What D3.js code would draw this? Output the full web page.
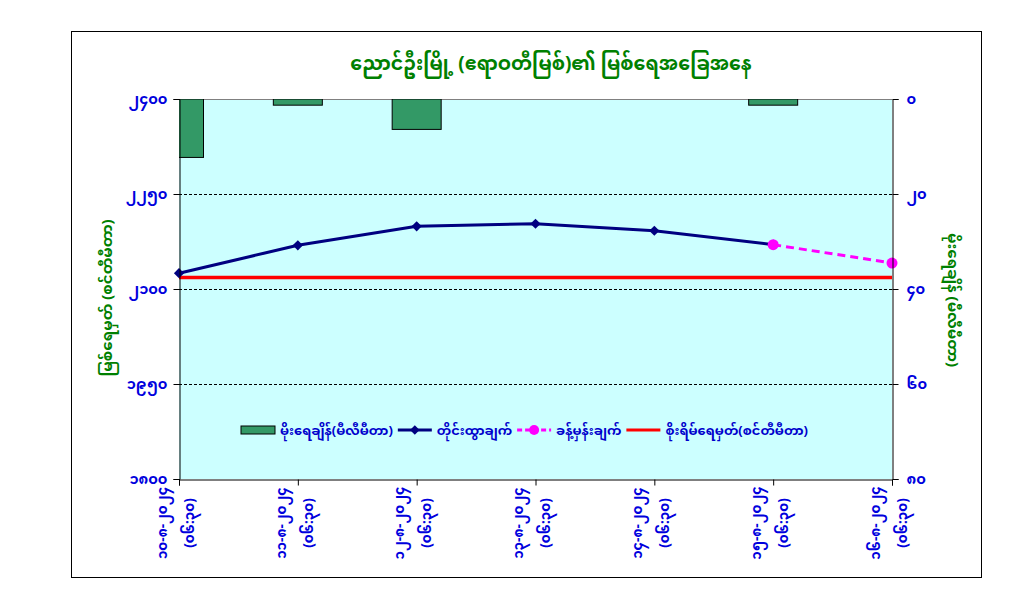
<!DOCTYPE html>
<html>
<head>
<meta charset="utf-8">
<script src="https://cdn.jsdelivr.net/npm/d3@7"></script>
<style>
  body { margin: 0; background: #fff; }
  text { font-family: "Noto Sans Myanmar", "Padauk", "Myanmar Text", "Noto Sans", sans-serif; }
</style>
</head>
<body>
<div id="chart"></div>
<script>
// chart values
const dates = ["၁၀-၈-၂၀၂၄", "၁၁-၈-၂၀၂၄", "၁၂-၈-၂၀၂၄", "၁၃-၈-၂၀၂၄", "၁၄-၈-၂၀၂၄", "၁၅-၈-၂၀၂၄", "၁၆-၈-၂၀၂၄"];
const timeLabel = "(၀၆:၃၀)";
const waterLevel = [2125, 2169, 2199, 2203, 2192, 2170, null];
const forecast = [null, null, null, null, null, 2170, 2141];
const rainfall = [12.3, 1.3, 6.4, 0, 0, 1.3, null];
const dangerLevel = 2118;
const leftTicks = [1800, 1950, 2100, 2250, 2400];
const rightTicks = [0, 20, 40, 60, 80];
const legendNames = ["မိုးရေချိန်(မီလီမီတာ)", "တိုင်းထွာချက်", "ခန့်မှန်းချက်", "စိုးရိမ်ရေမှတ်(စင်တီမီတာ)"];

const toMm = (n) => String(n).replace(/[0-9]/g, (c) => "၀၁၂၃၄၅၆၇၈၉"[+c]);

function createChart() {
  const width = 1018;
  const height = 612;
  const plot = { left: 179, right: 892, top: 99, bottom: 479 };

  const svg = d3.select("#chart")
    .append("svg")
    .attr("width", width)
    .attr("height", height);

  // outer frame
  svg.append("rect")
    .attr("x", 71.5).attr("y", 31.5)
    .attr("width", 910).attr("height", 546)
    .attr("fill", "#fff")
    .attr("stroke", "#000");

  const xScale = d3.scalePoint()
    .domain(dates)
    .range([plot.left, plot.right]);

  const yLeft = d3.scaleLinear()
    .domain([1800, 2400])
    .range([plot.bottom, plot.top]);

  const yRight = d3.scaleLinear()
    .domain([0, 80])
    .range([plot.top, plot.bottom]);

  // plot background
  svg.append("rect")
    .attr("x", plot.left).attr("y", plot.top)
    .attr("width", plot.right - plot.left)
    .attr("height", plot.bottom - plot.top)
    .attr("fill", "#CCFFFF");

  svg.append("line")
    .attr("x1", plot.left).attr("x2", plot.right)
    .attr("y1", plot.top + 0.5).attr("y2", plot.top + 0.5)
    .attr("stroke", "#808080");

  // gridlines
  svg.append("g")
    .selectAll("line")
    .data(leftTicks.slice(1, -1))
    .join("line")
    .attr("x1", plot.left).attr("x2", plot.right)
    .attr("y1", (d) => Math.round(yLeft(d)) + 0.5)
    .attr("y2", (d) => Math.round(yLeft(d)) + 0.5)
    .attr("stroke", "#000")
    .attr("stroke-dasharray", "3,2");

  svg.append("clipPath").attr("id", "clip")
    .append("rect")
    .attr("x", plot.left).attr("y", plot.top)
    .attr("width", plot.right - plot.left)
    .attr("height", plot.bottom - plot.top);

  // rainfall bars hanging from the top
  const barW = 49;
  svg.append("g")
    .attr("clip-path", "url(#clip)")
    .selectAll("rect")
    .data(dates.map((d, i) => ({ date: d, v: rainfall[i] })).filter((d) => d.v))
    .join("rect")
    .attr("x", (d) => xScale(d.date) - barW / 2)
    .attr("y", yRight(0))
    .attr("width", barW)
    .attr("height", (d) => yRight(d.v) - yRight(0))
    .attr("fill", "#339966")
    .attr("stroke", "#000")
    .attr("stroke-width", 1);

  // danger level
  svg.append("line")
    .attr("x1", plot.left).attr("x2", plot.right)
    .attr("y1", yLeft(dangerLevel)).attr("y2", yLeft(dangerLevel))
    .attr("stroke", "#FF0000")
    .attr("stroke-width", 3.5);

  const line = d3.line()
    .defined((d) => d.v != null)
    .x((d) => xScale(d.date))
    .y((d) => yLeft(d.v));

  const observed = dates.map((d, i) => ({ date: d, v: waterLevel[i] }));
  const predicted = dates.map((d, i) => ({ date: d, v: forecast[i] }));

  svg.append("path")
    .datum(observed)
    .attr("d", line)
    .attr("fill", "none")
    .attr("stroke", "#000080")
    .attr("stroke-width", 3);

  // diamonds = squares turned 45deg
  svg.append("g")
    .selectAll("path")
    .data(observed.filter((d) => d.v != null))
    .join("path")
    .attr("d", d3.symbol(d3.symbolSquare, 52))
    .attr("transform", (d) => `translate(${xScale(d.date)},${yLeft(d.v)}) rotate(45)`)
    .attr("fill", "#000080");

  svg.append("path")
    .datum(predicted)
    .attr("d", line)
    .attr("fill", "none")
    .attr("stroke", "#FF00FF")
    .attr("stroke-width", 3)
    .attr("stroke-dasharray", "8,5");

  svg.append("g")
    .selectAll("circle")
    .data(predicted.filter((d) => d.v != null))
    .join("circle")
    .attr("cx", (d) => xScale(d.date))
    .attr("cy", (d) => yLeft(d.v))
    .attr("r", 5.5)
    .attr("fill", "#FF00FF");

  // axes
  const tickColor = "#0000DD";

  const leftAxis = svg.append("g")
    .attr("transform", `translate(${plot.left + 0.5},0)`)
    .call(d3.axisLeft(yLeft).tickValues(leftTicks).tickSize(6).tickPadding(6).tickFormat(toMm));

  const rightAxis = svg.append("g")
    .attr("transform", `translate(${plot.right + 0.5},0)`)
    .call(d3.axisRight(yRight).tickValues(rightTicks).tickSize(6).tickPadding(8).tickFormat(toMm));

  const xAxis = svg.append("g")
    .attr("transform", `translate(0,${plot.bottom + 0.5})`)
    .call(d3.axisBottom(xScale).tickSize(6).tickFormat(""));

  [leftAxis, rightAxis, xAxis].forEach((a) => {
    a.select(".domain").attr("stroke", "#000");
    a.selectAll(".tick line").attr("stroke", "#000");
    a.selectAll("text")
      .attr("fill", tickColor)
      .attr("font-size", 14.5)
      .attr("font-weight", "bold");
  });

  // rotated date labels
  const xl = svg.append("g")
    .selectAll("g")
    .data(dates)
    .join("g")
    .attr("transform", (d) => `translate(${xScale(d) - 3},523) rotate(-90)`);

  xl.append("text")
    .attr("y", -14)
    .attr("dy", "0.35em")
    .attr("text-anchor", "middle")
    .attr("fill", tickColor)
    .attr("font-size", 13.5)
    .attr("font-weight", "bold")
    .text((d) => d);

  xl.append("text")
    .attr("y", 13)
    .attr("dy", "0.35em")
    .attr("text-anchor", "middle")
    .attr("fill", tickColor)
    .attr("font-size", 13.5)
    .attr("font-weight", "bold")
    .text(timeLabel);

  // titles
  svg.append("text")
    .attr("x", 551).attr("y", 63)
    .attr("dy", "0.35em")
    .attr("text-anchor", "middle")
    .attr("fill", "#008000")
    .attr("font-size", 19)
    .attr("font-weight", "bold")
    .text("ညောင်ဦးမြို့ (ဧရာဝတီမြစ်)၏ မြစ်ရေအခြေအနေ");

  svg.append("text")
    .attr("transform", "translate(107,298) rotate(-90)")
    .attr("dy", "0.35em")
    .attr("text-anchor", "middle")
    .attr("fill", "#008000")
    .attr("font-size", 15)
    .attr("font-weight", "bold")
    .text("မြစ်ရေမှတ် (စင်တီမီတာ)");

  svg.append("text")
    .attr("transform", "translate(953,300) rotate(90)")
    .attr("dy", "0.35em")
    .attr("text-anchor", "middle")
    .attr("fill", "#008000")
    .attr("font-size", 15)
    .attr("font-weight", "bold")
    .text("မိုးရေချိန် (မီလီမီတာ)");

  // legend
  const legend = svg.append("g").attr("transform", "translate(241,430)");
  let lx = 0;
  legendNames.forEach((name, i) => {
    const item = legend.append("g").attr("transform", `translate(${lx},0)`);
    if (i === 0) {
      item.append("rect")
        .attr("x", 0).attr("y", -4)
        .attr("width", 34).attr("height", 8)
        .attr("fill", "#339966").attr("stroke", "#000");
    } else {
      const color = ["", "#000080", "#FF00FF", "#FF0000"][i];
      item.append("line")
        .attr("x1", 0).attr("x2", 34)
        .attr("stroke", color)
        .attr("stroke-width", 3)
        .attr("stroke-dasharray", i === 2 ? "5,3" : null);
      if (i === 1) {
        item.append("path")
          .attr("d", d3.symbol(d3.symbolSquare, 45))
          .attr("transform", "translate(17,0) rotate(45)")
          .attr("fill", color);
      }
      if (i === 2) {
        item.append("circle").attr("cx", 17).attr("r", 5).attr("fill", color);
      }
    }
    const t = item.append("text")
      .attr("x", 39)
      .attr("dy", "0.35em")
      .attr("fill", "#0000CC")
      .attr("font-size", 13)
      .attr("font-weight", "bold")
      .text(name);
    lx += 39 + t.node().getComputedTextLength() + 5;
  });
}

document.addEventListener("DOMContentLoaded", createChart);
</script>
</body>
</html>
